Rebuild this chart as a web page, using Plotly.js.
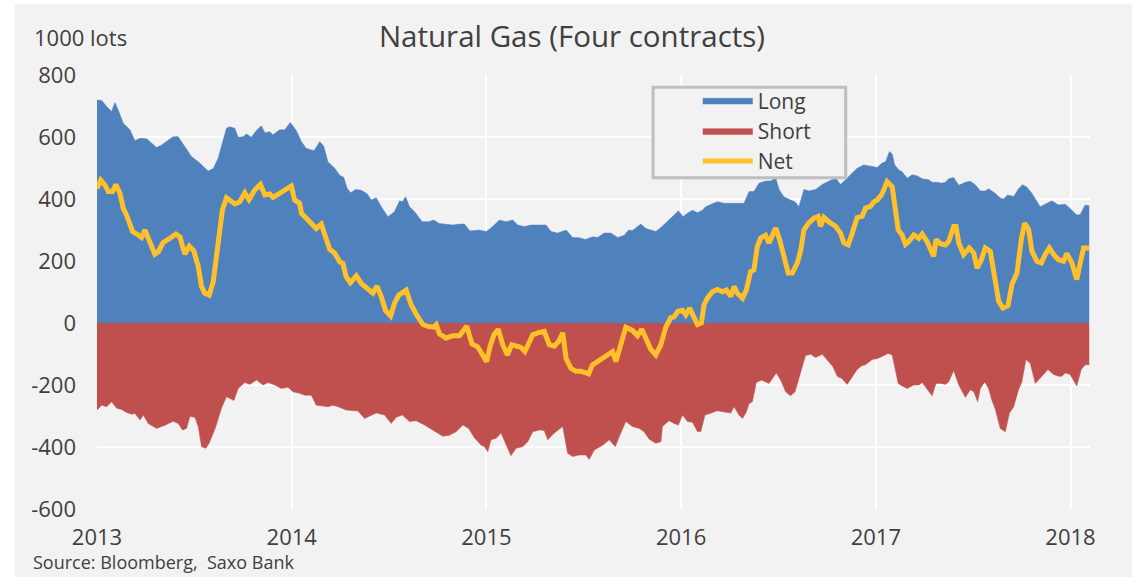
<!DOCTYPE html>
<html>
<head>
<meta charset="utf-8">
<script src="https://cdn.plot.ly/plotly-3.0.1.min.js"></script>
<style>
  html, body { margin: 0; padding: 0; background: #ffffff; }
  #chart { width: 1132px; height: 577px; }
</style>
</head>
<body>
<div id="chart"></div>
<script>
// Positions along the time axis are in decimal years (weekly-ish readings)
const longX = [2013.000,2013.024,2013.050,2013.075,2013.092,2013.109,2013.135,2013.169,2013.195,2013.221,2013.255,2013.280,2013.306,2013.332,2013.357,2013.391,2013.417,2013.451,2013.485,2013.520,2013.571,2013.597,2013.622,2013.648,2013.665,2013.682,2013.708,2013.725,2013.750,2013.768,2013.793,2013.819,2013.844,2013.862,2013.887,2013.904,2013.938,2013.964,2013.993,2014.024,2014.050,2014.075,2014.115,2014.144,2014.164,2014.186,2014.221,2014.246,2014.267,2014.285,2014.303,2014.328,2014.357,2014.386,2014.409,2014.434,2014.460,2014.494,2014.528,2014.554,2014.568,2014.585,2014.605,2014.631,2014.670,2014.704,2014.728,2014.759,2014.793,2014.827,2014.862,2014.887,2014.916,2014.961,2015.000,2015.032,2015.067,2015.101,2015.135,2015.161,2015.195,2015.229,2015.306,2015.332,2015.366,2015.409,2015.443,2015.477,2015.508,2015.545,2015.571,2015.605,2015.639,2015.674,2015.708,2015.730,2015.750,2015.793,2015.819,2015.844,2015.870,2015.896,2015.930,2015.964,2015.986,2016.010,2016.033,2016.058,2016.084,2016.109,2016.126,2016.152,2016.186,2016.221,2016.272,2016.323,2016.349,2016.374,2016.400,2016.434,2016.460,2016.486,2016.503,2016.528,2016.562,2016.585,2016.605,2016.631,2016.656,2016.691,2016.725,2016.759,2016.793,2016.819,2016.844,2016.870,2016.904,2016.938,2016.981,2017.007,2017.032,2017.050,2017.070,2017.084,2017.097,2017.118,2017.135,2017.161,2017.186,2017.212,2017.238,2017.272,2017.289,2017.315,2017.337,2017.357,2017.374,2017.400,2017.426,2017.460,2017.485,2017.511,2017.537,2017.562,2017.579,2017.614,2017.639,2017.656,2017.677,2017.708,2017.733,2017.754,2017.776,2017.802,2017.844,2017.879,2017.904,2017.938,2017.973,2018.007,2018.032,2018.050,2018.075,2018.096];
const longVals = [719,718,698,682,711,687,644,623,588,596,594,580,566,574,585,601,601,569,537,520,490,498,531,590,628,633,628,599,601,610,599,621,636,614,617,607,623,623,647,620,585,563,556,585,571,520,499,477,470,434,420,431,428,418,397,404,375,343,359,394,391,407,375,359,327,327,332,321,319,316,319,319,297,300,295,311,332,327,332,316,311,316,316,295,290,300,276,275,269,278,276,290,290,276,283,300,298,319,305,300,295,308,327,348,362,343,354,364,356,364,375,381,391,386,386,386,424,424,451,458,458,468,431,407,397,391,375,431,426,431,447,458,468,447,463,479,499,510,506,502,516,520,553,545,510,494,488,467,478,475,465,462,454,454,451,454,465,469,444,454,457,446,426,426,433,418,403,400,413,408,433,446,438,418,375,386,394,381,383,364,348,350,381,378];

const shortX = [2013.000,2013.024,2013.050,2013.075,2013.101,2013.126,2013.152,2013.178,2013.195,2013.221,2013.238,2013.263,2013.306,2013.349,2013.391,2013.417,2013.439,2013.460,2013.477,2013.503,2013.520,2013.537,2013.559,2013.576,2013.610,2013.639,2013.665,2013.703,2013.725,2013.759,2013.785,2013.819,2013.853,2013.879,2013.913,2013.947,2013.981,2014.007,2014.041,2014.067,2014.101,2014.126,2014.161,2014.186,2014.212,2014.238,2014.280,2014.340,2014.374,2014.400,2014.434,2014.477,2014.511,2014.537,2014.568,2014.605,2014.639,2014.682,2014.721,2014.742,2014.776,2014.810,2014.844,2014.879,2014.909,2014.938,2014.973,2014.990,2015.007,2015.024,2015.050,2015.075,2015.101,2015.126,2015.152,2015.186,2015.212,2015.238,2015.272,2015.297,2015.315,2015.349,2015.392,2015.417,2015.443,2015.477,2015.511,2015.528,2015.554,2015.597,2015.631,2015.662,2015.682,2015.716,2015.750,2015.785,2015.810,2015.836,2015.870,2015.896,2015.904,2015.938,2015.964,2015.986,2016.007,2016.033,2016.058,2016.084,2016.101,2016.123,2016.152,2016.186,2016.221,2016.255,2016.272,2016.297,2016.315,2016.335,2016.349,2016.366,2016.386,2016.414,2016.434,2016.451,2016.489,2016.511,2016.537,2016.562,2016.585,2016.614,2016.639,2016.665,2016.691,2016.725,2016.750,2016.779,2016.802,2016.827,2016.853,2016.875,2016.904,2016.930,2016.947,2016.981,2017.007,2017.032,2017.063,2017.084,2017.097,2017.115,2017.135,2017.161,2017.195,2017.221,2017.238,2017.263,2017.289,2017.309,2017.337,2017.357,2017.374,2017.400,2017.426,2017.460,2017.485,2017.503,2017.523,2017.537,2017.559,2017.579,2017.596,2017.614,2017.639,2017.665,2017.686,2017.708,2017.733,2017.750,2017.771,2017.793,2017.819,2017.844,2017.884,2017.913,2017.938,2017.955,2017.973,2017.998,2018.032,2018.055,2018.075,2018.096];
const shortVals = [-281,-265,-270,-254,-275,-279,-289,-294,-292,-313,-297,-324,-340,-330,-317,-324,-345,-340,-302,-304,-335,-399,-404,-388,-335,-275,-238,-250,-211,-192,-198,-184,-200,-192,-200,-211,-207,-222,-227,-233,-233,-265,-268,-270,-265,-270,-281,-284,-308,-301,-290,-297,-324,-304,-297,-318,-315,-329,-345,-351,-365,-362,-351,-329,-340,-370,-394,-399,-415,-377,-372,-355,-394,-428,-404,-399,-383,-351,-345,-347,-377,-355,-334,-420,-431,-426,-426,-440,-410,-394,-377,-399,-367,-318,-334,-340,-351,-375,-388,-383,-334,-315,-324,-329,-297,-318,-320,-350,-350,-297,-291,-283,-287,-290,-270,-297,-308,-287,-260,-254,-192,-184,-190,-195,-161,-184,-222,-235,-222,-158,-105,-101,-111,-101,-118,-140,-172,-180,-198,-178,-150,-137,-135,-118,-115,-108,-98,-103,-140,-195,-203,-211,-200,-200,-192,-215,-235,-195,-195,-198,-190,-153,-200,-240,-215,-222,-254,-211,-190,-211,-249,-279,-340,-351,-291,-270,-215,-190,-118,-130,-195,-178,-150,-166,-172,-172,-161,-166,-203,-150,-135,-135];

const netX = [2013.000,2013.019,2013.041,2013.058,2013.080,2013.097,2013.118,2013.135,2013.152,2013.183,2013.212,2013.229,2013.246,2013.272,2013.297,2013.315,2013.340,2013.374,2013.405,2013.426,2013.451,2013.474,2013.497,2013.520,2013.537,2013.554,2013.576,2013.597,2013.622,2013.644,2013.665,2013.682,2013.708,2013.733,2013.759,2013.781,2013.810,2013.839,2013.862,2013.887,2013.904,2013.938,2013.973,2013.998,2014.015,2014.041,2014.050,2014.075,2014.109,2014.126,2014.152,2014.169,2014.195,2014.221,2014.246,2014.263,2014.280,2014.301,2014.332,2014.357,2014.386,2014.417,2014.438,2014.460,2014.482,2014.508,2014.528,2014.550,2014.588,2014.614,2014.639,2014.674,2014.699,2014.728,2014.742,2014.759,2014.793,2014.827,2014.862,2014.899,2014.926,2014.955,2014.981,2015.001,2015.019,2015.039,2015.061,2015.084,2015.108,2015.130,2015.156,2015.176,2015.198,2015.238,2015.264,2015.297,2015.323,2015.349,2015.371,2015.392,2015.409,2015.434,2015.460,2015.485,2015.511,2015.525,2015.545,2015.580,2015.605,2015.631,2015.648,2015.665,2015.691,2015.716,2015.750,2015.776,2015.798,2015.819,2015.844,2015.870,2015.896,2015.921,2015.947,2015.964,2015.982,2016.007,2016.024,2016.044,2016.067,2016.084,2016.104,2016.118,2016.135,2016.161,2016.186,2016.212,2016.233,2016.255,2016.272,2016.289,2016.315,2016.335,2016.357,2016.374,2016.391,2016.409,2016.434,2016.451,2016.486,2016.506,2016.528,2016.550,2016.571,2016.597,2016.614,2016.631,2016.656,2016.682,2016.704,2016.716,2016.733,2016.759,2016.793,2016.819,2016.836,2016.858,2016.879,2016.904,2016.930,2016.947,2016.973,2016.990,2017.007,2017.029,2017.041,2017.058,2017.084,2017.101,2017.115,2017.135,2017.152,2017.169,2017.195,2017.221,2017.238,2017.263,2017.280,2017.297,2017.309,2017.332,2017.357,2017.374,2017.400,2017.412,2017.426,2017.451,2017.480,2017.503,2017.520,2017.542,2017.562,2017.588,2017.610,2017.631,2017.653,2017.679,2017.699,2017.725,2017.747,2017.764,2017.785,2017.802,2017.827,2017.850,2017.870,2017.891,2017.913,2017.938,2017.964,2017.981,2018.007,2018.032,2018.050,2018.067,2018.096];
const netVals = [434,461,445,424,424,447,418,370,348,295,284,276,300,262,222,230,260,273,287,278,222,248,233,182,117,96,90,133,252,365,404,397,384,391,420,398,429,447,413,416,405,418,431,442,397,386,354,338,311,305,319,290,238,225,198,192,149,130,152,128,112,96,119,85,40,23,64,90,106,58,29,-5,-11,-13,-5,-35,-49,-41,-41,-10,-68,-77,-103,-125,-75,-38,-20,-70,-103,-70,-75,-78,-92,-38,-32,-27,-70,-75,-59,-32,-114,-146,-156,-156,-161,-164,-135,-119,-110,-99,-92,-124,-70,-14,-24,-41,-20,-49,-84,-103,-70,-14,17,20,37,41,26,48,21,-5,0,59,80,101,108,101,106,86,118,96,80,106,166,172,246,274,283,258,306,269,215,161,161,194,233,301,323,338,344,312,341,326,312,290,258,252,290,340,344,371,376,391,397,413,430,456,440,376,301,284,254,263,284,273,287,263,236,215,269,256,252,263,311,311,258,221,242,226,177,204,242,231,149,70,48,56,124,161,269,322,301,231,199,194,221,242,221,204,199,224,194,140,194,242,242];

const yearTicks = [2013, 2014, 2015, 2016, 2017, 2018];
const yearLabels = ['2013', '2014', '2015', '2016', '2017', '2018'];
const yTicks = [-600, -400, -200, 0, 200, 400, 600, 800];
const yLabels = ['-600', '-400', '-200', '0', '200', '400', '600', '800'];

const FONT = 'Open Sans, Noto Sans, sans-serif';
const TXT = '#404040';

const traces = [
  {
    x: longX, y: longVals, name: 'Long', type: 'scatter', mode: 'lines',
    fill: 'tozeroy', fillcolor: '#4f81bd',
    line: { color: '#4f81bd', width: 0.5 }, hoverinfo: 'x+y'
  },
  {
    x: shortX, y: shortVals, name: 'Short', type: 'scatter', mode: 'lines',
    fill: 'tozeroy', fillcolor: '#c0504d',
    line: { color: '#c0504d', width: 0.5 }, hoverinfo: 'x+y'
  },
  {
    x: netX, y: netVals, name: 'Net', type: 'scatter', mode: 'lines',
    line: { color: '#ffc02a', width: 5 }, hoverinfo: 'x+y'
  }
];

const layout = {
  width: 1132, height: 577,
  paper_bgcolor: '#ffffff',
  plot_bgcolor: '#f2f2f2',
  margin: { l: 97, r: 42, t: 75, b: 68, pad: 0 },
  font: { family: FONT, color: TXT, size: 22 },
  title: {
    text: 'Natural Gas (Four contracts)',
    x: 0.5053, xref: 'container', xanchor: 'center',
    y: 0.936, yref: 'container', yanchor: 'middle',
    font: { family: FONT, size: 29.5, color: TXT }
  },
  xaxis: {
    range: [2013, 2018.1],
    tickmode: 'array', tickvals: yearTicks, ticktext: yearLabels,
    showgrid: true, gridcolor: '#ffffff', gridwidth: 2,
    zeroline: false, showline: false, ticks: '',
    ticklabelstandoff: 13,
    tickfont: { family: FONT, size: 22, color: TXT }
  },
  yaxis: {
    range: [-600, 800],
    tickmode: 'array', tickvals: yTicks, ticktext: yLabels,
    showgrid: true, gridcolor: '#ffffff', gridwidth: 2,
    zeroline: false, showline: false, ticks: '',
    ticklabelstandoff: 20,
    tickfont: { family: FONT, size: 22, color: TXT }
  },
  showlegend: true,
  legend: {
    x: 0.605, y: 0.988, xanchor: 'left', yanchor: 'top',
    bgcolor: 'rgba(0,0,0,0)', borderwidth: 0,
    font: { family: FONT, size: 21, color: TXT },
    itemwidth: 50, tracegroupgap: 0
  },
  shapes: [
    { type: 'rect', xref: 'paper', yref: 'paper', layer: 'below',
      x0: -0.0826, x1: 1.0423, y0: -0.1567, y1: 1.1636,
      fillcolor: '#f2f2f2', line: { width: 0 } },
    { type: 'rect', xref: 'paper', yref: 'paper', layer: 'above',
      x0: 0.560, x1: 0.754, y0: 0.763, y1: 0.972,
      fillcolor: '#f2f2f2', line: { color: '#bfbfbf', width: 3 } }
  ],
  annotations: [
    { text: '1000 lots', xref: 'paper', yref: 'paper', x: -0.0655, y: 1.0876,
      xanchor: 'left', yanchor: 'middle', showarrow: false,
      font: { family: FONT, size: 22, color: TXT } },
    { text: 'Source: Bloomberg,  Saxo Bank', xref: 'paper', yref: 'paper', x: -0.0665, y: -0.123,
      xanchor: 'left', yanchor: 'middle', showarrow: false,
      font: { family: FONT, size: 18, color: TXT } }
  ]
};

Plotly.newPlot('chart', traces, layout, { displayModeBar: false, staticPlot: true });
</script>
</body>
</html>
